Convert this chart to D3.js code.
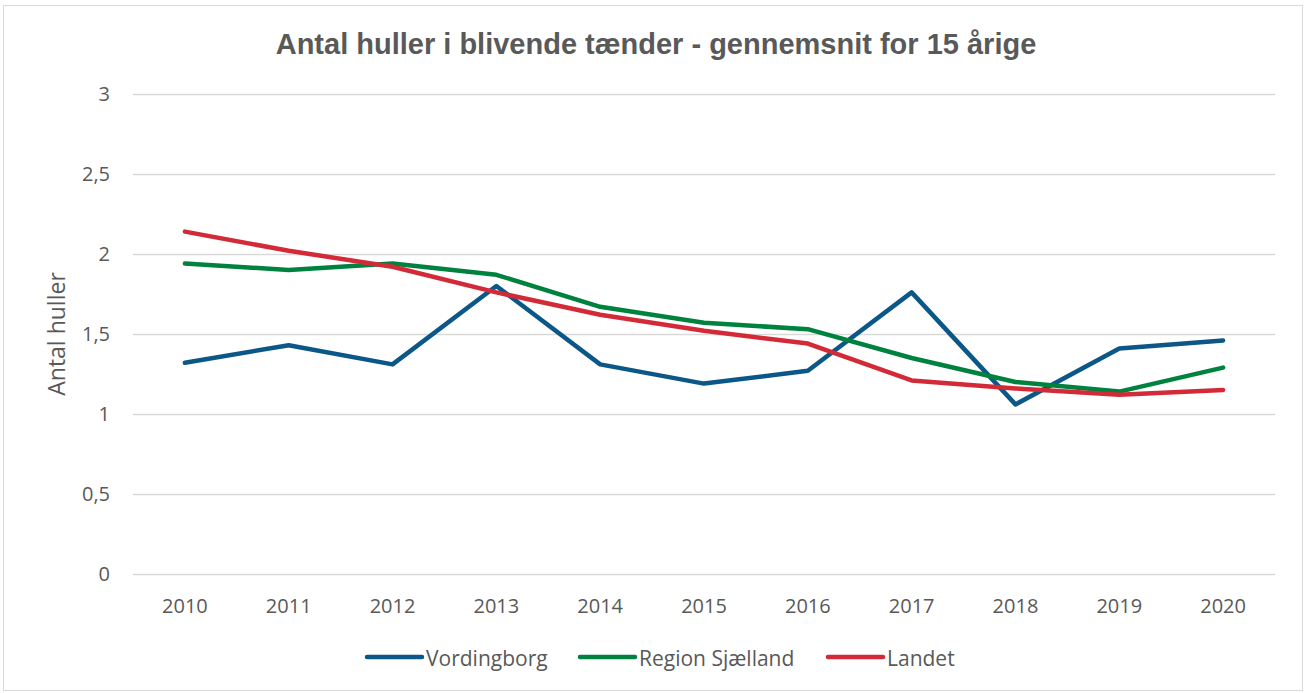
<!DOCTYPE html>
<html>
<head>
<meta charset="utf-8">
<script src="https://cdn.jsdelivr.net/npm/d3@7"></script>
<style>
  body { margin: 0; background: #fff; }
  svg { display: block; }
</style>
</head>
<body>
<div id="chart"></div>
<script>
// years on the x axis
const years = ['2010','2011','2012','2013','2014','2015','2016','2017','2018','2019','2020'];
// average number of cavities per series
const vordingborg = [1.32, 1.43, 1.31, 1.80, 1.31, 1.19, 1.27, 1.76, 1.06, 1.41, 1.46];
const regionSjaelland = [1.94, 1.90, 1.94, 1.87, 1.67, 1.57, 1.53, 1.35, 1.20, 1.14, 1.29];
const landet = [2.14, 2.02, 1.92, 1.76, 1.62, 1.52, 1.44, 1.21, 1.16, 1.12, 1.15];
const seriesNames = ['Vordingborg', 'Region Sjælland', 'Landet'];
const yTicks = [0, 0.5, 1, 1.5, 2, 2.5, 3];

const series = [
  { name: seriesNames[0], values: vordingborg, color: '#0b5787' },
  { name: seriesNames[1], values: regionSjaelland, color: '#00823f' },
  { name: seriesNames[2], values: landet, color: '#d32a37' }
];

const W = 1305, H = 693;
const margin = { top: 94, right: 30, bottom: 119, left: 133 };
const width = W - margin.left - margin.right;
const height = H - margin.top - margin.bottom;

const svg = d3.select('#chart').append('svg')
  .attr('width', W).attr('height', H);

// outer chart border
svg.append('rect')
  .attr('x', 3.5).attr('y', 5.5)
  .attr('width', W - 6).attr('height', H - 8)
  .attr('fill', '#fff').attr('stroke', '#d9d9d9');

svg.append('text')
  .attr('x', 656).attr('y', 54)
  .attr('text-anchor', 'middle')
  .style('font-family', '"Liberation Sans", Arial, sans-serif')
  .style('font-weight', 'bold')
  .style('font-size', '29px')
  .attr('fill', '#595959')
  .text('Antal huller i blivende tænder - gennemsnit for 15 årige');

const g = svg.append('g').attr('transform', `translate(${margin.left},${margin.top})`);

const x = d3.scaleBand().domain(years).range([0, width]);
const y = d3.scaleLinear().domain([0, 3]).range([height, 0]);

// gridlines
g.append('g')
  .call(d3.axisLeft(y).tickValues(yTicks).tickSize(-width).tickFormat(''))
  .call(a => a.select('.domain').remove())
  .call(a => a.selectAll('line').attr('stroke', '#d9d9d9').attr('stroke-width', 1.5));

const fmt = d => String(d).replace('.', ',');
const tickFont = '"Open Sans", "Noto Sans", sans-serif';

const yAxis = g.append('g')
  .call(d3.axisLeft(y).tickValues(yTicks).tickSize(0).tickPadding(23).tickFormat(fmt));
yAxis.select('.domain').remove();
yAxis.selectAll('text')
  .style('font-family', tickFont).style('font-size', '20px').attr('fill', '#595959');

const xAxis = g.append('g')
  .attr('transform', `translate(0,${height})`)
  .call(d3.axisBottom(x).tickSize(0).tickPadding(25));
xAxis.select('.domain').remove();
xAxis.selectAll('text')
  .style('font-family', tickFont).style('font-size', '20px').attr('fill', '#595959');

// y axis title
svg.append('text')
  .attr('transform', `translate(65,${margin.top + height / 2}) rotate(-90)`)
  .attr('text-anchor', 'middle')
  .style('font-family', tickFont).style('font-size', '23px')
  .attr('fill', '#595959')
  .text('Antal huller');

const line = d3.line()
  .x((d, i) => x(years[i]) + x.bandwidth() / 2)
  .y(d => y(d));

series.forEach(s => {
  g.append('path')
    .datum(s.values)
    .attr('d', line)
    .attr('fill', 'none')
    .attr('stroke', s.color)
    .attr('stroke-width', 4.5)
    .attr('stroke-linecap', 'round')
    .attr('stroke-linejoin', 'round');
});

// legend
const legendX = [367, 580, 828];
const legend = svg.append('g').attr('transform', 'translate(0,657)');
series.forEach((s, i) => {
  legend.append('line')
    .attr('x1', legendX[i]).attr('x2', legendX[i] + 55)
    .attr('y1', 0).attr('y2', 0)
    .attr('stroke', s.color).attr('stroke-width', 4.5)
    .attr('stroke-linecap', 'round');
  legend.append('text')
    .attr('x', legendX[i] + 59).attr('y', 9)
    .style('font-family', tickFont).style('font-size', '21px')
    .attr('fill', '#595959')
    .text(s.name);
});
</script>
</body>
</html>
